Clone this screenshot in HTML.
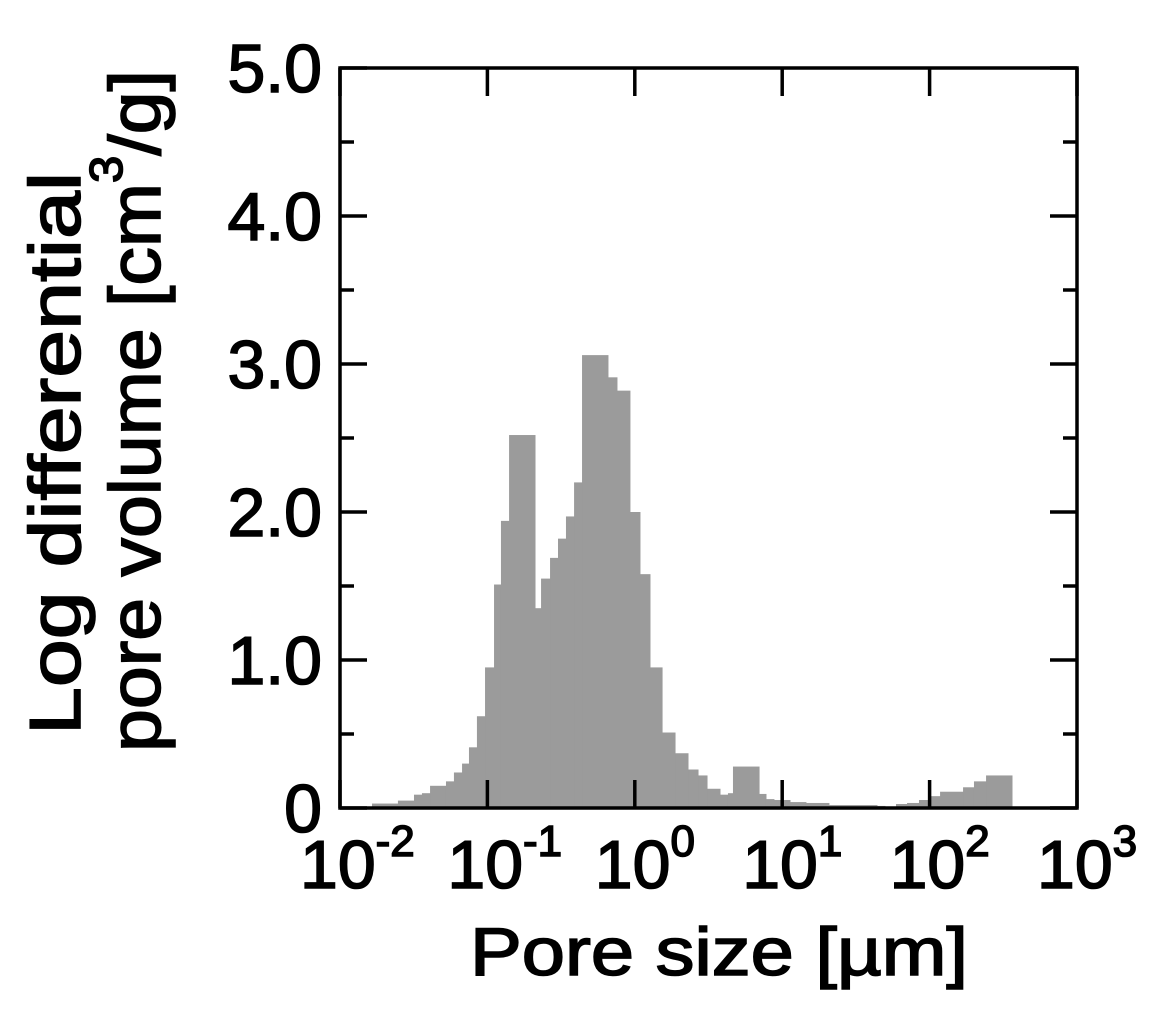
<!DOCTYPE html>
<html><head><meta charset="utf-8"><style>
html,body{margin:0;padding:0;background:#fff;}
svg{display:block;font-family:"Liberation Sans",Arial,sans-serif;}
.t{stroke:#000;stroke-width:1.6px;fill:#000;}
</style></head><body>
<svg id="chart" width="1162" height="1025" viewBox="0 0 1162 1025" xmlns="http://www.w3.org/2000/svg">
<g id="bars"></g>
<g id="axes"></g>
<text class="t" transform="translate(80,735) rotate(-90)" font-size="72" textLength="563" lengthAdjust="spacingAndGlyphs">Log differential</text>
<text class="t" transform="translate(160,752) rotate(-90)" font-size="72" textLength="682" lengthAdjust="spacingAndGlyphs">pore volume [cm<tspan dy="-38" font-size="46">3</tspan><tspan dy="38">/g]</tspan></text>
<text class="t" x="470" y="975" font-size="68" textLength="498" lengthAdjust="spacingAndGlyphs">Pore size [µm]</text>
</svg>
<script>
const binEdgesLog = [-1.783,-1.607,-1.498,-1.444,-1.389,-1.281,-1.227,-1.172,-1.125,-1.071,-1.016,-0.955,-0.908,-0.853,-0.677,-0.636,-0.575,-0.521,-0.467,-0.412,-0.358,-0.182,-0.121,-0.033,0.035,0.103,0.185,0.273,0.361,0.429,0.490,0.578,0.632,0.666,0.843,0.890,0.944,1.053,1.161,1.317,1.643,1.697,1.772,1.847,1.928,1.996,2.071,2.227,2.301,2.383,2.559];
const volumes = [0.03,0.05,0.09,0.10,0.15,0.18,0.24,0.30,0.41,0.62,0.95,1.51,1.94,2.52,1.35,1.55,1.69,1.82,1.97,2.20,3.06,2.91,2.82,2.00,1.58,0.95,0.51,0.37,0.26,0.22,0.13,0.09,0.10,0.28,0.095,0.06,0.054,0.04,0.034,0.02,0.014,0.007,0.027,0.034,0.054,0.08,0.11,0.14,0.18,0.22];
const yTicks = [0,1,2,3,4,5];
const yTickLabels = ["0","1.0","2.0","3.0","4.0","5.0"];
const xTickExps = [-2,-1,0,1,2,3];
const xTickSups = ["-2","-1","0","1","2","3"];

const L=340,R=1077,T=68,B=808;
const xMin=-2,xMax=3,yMin=0,yMax=5;
const xs=v=>L+(v-xMin)/(xMax-xMin)*(R-L);
const ys=v=>B-(v-yMin)/(yMax-yMin)*(B-T);
const NS="http://www.w3.org/2000/svg";
function mk(tag,attrs,parent){const e=document.createElementNS(NS,tag);for(const k in attrs)e.setAttribute(k,attrs[k]);parent.appendChild(e);return e;}
const gb=document.getElementById('bars'), ga=document.getElementById('axes');
volumes.forEach((v,i)=>{
  const x0=xs(binEdgesLog[i]),x1=xs(binEdgesLog[i+1]);
  const r=mk('rect',{x:x0,y:ys(v),width:x1-x0+0.5,height:B-ys(v),fill:'#9b9b9b'},gb);
  
  
});
const fr=mk('rect',{x:L,y:T,width:R-L,height:B-T,fill:'none',stroke:'#000','stroke-width':3.5},ga);


yTicks.forEach((t,i)=>{
  const y=ys(t);
  const a=mk('line',{x1:L,x2:L+27,y1:y,y2:y,stroke:'#000','stroke-width':3.5},ga);
  
  
  const b=mk('line',{x1:R,x2:R-27,y1:y,y2:y,stroke:'#000','stroke-width':3.5},ga);
  
  
  if(i<yTicks.length-1){
    const ym=ys(t+0.5);
    const c=mk('line',{x1:L,x2:L+14,y1:ym,y2:ym,stroke:'#000','stroke-width':3.5},ga);
    
    
    const d=mk('line',{x1:R,x2:R-14,y1:ym,y2:ym,stroke:'#000','stroke-width':3.5},ga);
    
    
  }
  const tx=mk('text',{x:322,y:y+24,'font-size':68,'text-anchor':'end','class':'t'},ga);
  tx.textContent=yTickLabels[i];
  
  
});
xTickExps.forEach((e,i)=>{
  const x=xs(e);
  const a=mk('line',{x1:x,x2:x,y1:B,y2:B-28,stroke:'#000','stroke-width':3.5},ga);
  
  
  const b=mk('line',{x1:x,x2:x,y1:T,y2:T+28,stroke:'#000','stroke-width':3.5},ga);
  
  
  const tx=mk('text',{x:x-40,y:888,'font-size':68,'class':'t'},ga);
  
  
  tx.textContent='10';
  const s=mk('tspan',{dy:-32,'font-size':44},tx);
  s.textContent=xTickSups[i];
});
</script>
</body></html>
